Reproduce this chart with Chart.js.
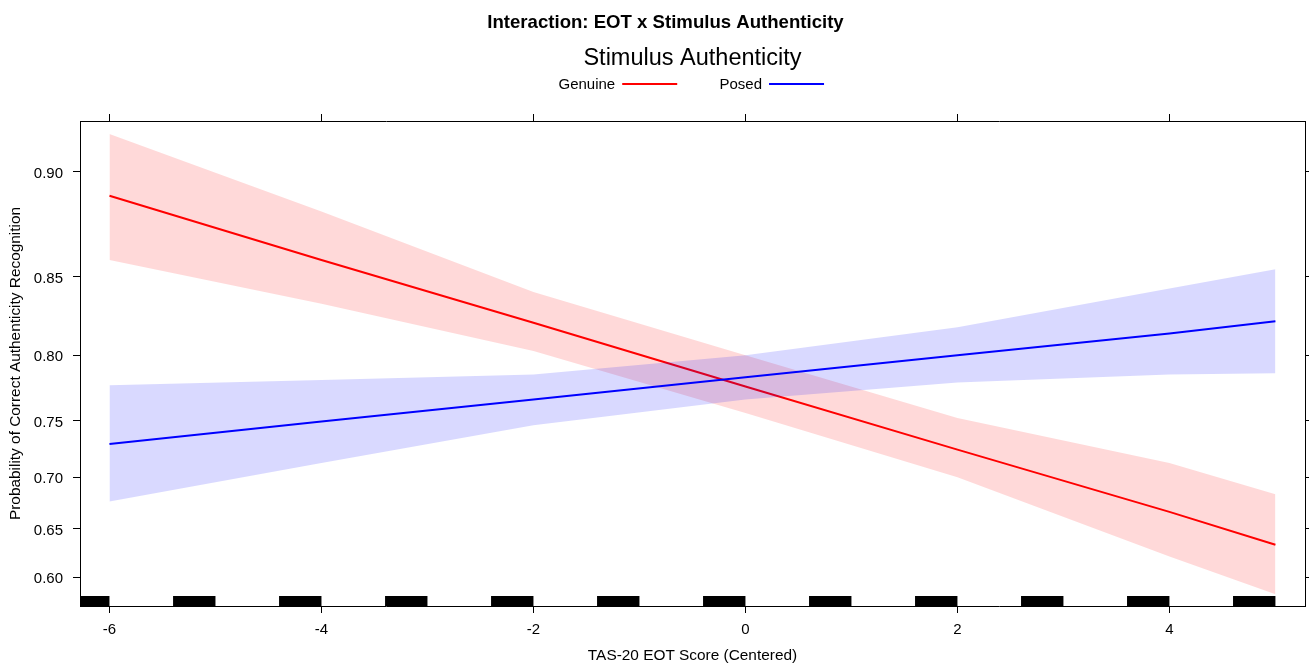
<!DOCTYPE html>
<html><head><meta charset="utf-8">
<script src="https://cdn.jsdelivr.net/npm/chart.js@4.4.1/dist/chart.umd.min.js"></script>
<style>html,body{margin:0;padding:0;background:#fff;}#wrap{width:1309px;height:663px;position:relative}</style>
</head><body><div id="wrap"><canvas id="c" width="1309" height="663"></canvas></div>
<script>
// ---- data (probabilities) ----
const xValues      = [-6, -4, -2, 0, 2, 4, 5];
const genuineFit   = [0.890, 0.859, 0.822, 0.777, 0.725, 0.667, 0.634];
const genuineUpper = [0.914, 0.883, 0.841, 0.800, 0.752, 0.713, 0.684];
const genuineLower = [0.859, 0.834, 0.803, 0.756, 0.700, 0.622, 0.582];
const posedFit     = [0.730, 0.749, 0.767, 0.784, 0.800, 0.815, 0.823];
const posedUpper   = [0.778, 0.782, 0.786, 0.800, 0.819, 0.843, 0.854];
const posedLower   = [0.677, 0.713, 0.746, 0.767, 0.780, 0.786, 0.787];
const rugValues    = [-6, -5, -4, -3, -2, -1, 0, 1, 2, 3, 4, 5];
const xTickValues  = [-6, -4, -2, 0, 2, 4];
const yTickProbs   = [0.60, 0.65, 0.70, 0.75, 0.80, 0.85, 0.90];
const seriesNames  = ['Genuine', 'Posed'];
const chartTitle   = 'Interaction: EOT x Stimulus Authenticity';
const legendTitle  = 'Stimulus Authenticity';
const xTitle       = 'TAS-20 EOT Score (Centered)';
const yTitle       = 'Probability of Correct Authenticity Recognition';

// ---- helpers / styling ----
const logit = p => Math.log(p / (1 - p));
const pts = arr => xValues.map((x, i) => ({x: x, y: logit(arr[i])}));
const RED = '#ff0000', BLUE = '#0000ff';
const FONT = '"Liberation Sans", Arial, sans-serif';
const X_MIN = -6.278, X_MAX = 5.279;
const Y_MIN = 0.2789, Y_MAX = 2.421;
const RUG_JITTER = 0.4, RUG_H = 10;

const headerPlugin = {
  id: 'header',
  afterDraw(chart) {
    const ctx = chart.ctx, ca = chart.chartArea;
    const cx = (ca.left + ca.right) / 2;
    ctx.save();
    ctx.fillStyle = '#000';
    ctx.textBaseline = 'middle';
    ctx.textAlign = 'center';
    ctx.font = 'bold 18.6px ' + FONT;
    ctx.fillText(chartTitle, cx - 27, 23);
    ctx.font = '23.5px ' + FONT;
    ctx.fillText(legendTitle, cx, 59);
    // legend: text followed by line
    ctx.font = '15px ' + FONT;
    ctx.textAlign = 'left';
    const items = [{name: seriesNames[0], col: RED, x: cx - 134}, {name: seriesNames[1], col: BLUE, x: cx + 27}];
    items.forEach(it => {
      ctx.fillStyle = '#000';
      ctx.fillText(it.name, it.x, 85);
      const w = ctx.measureText(it.name).width;
      ctx.strokeStyle = it.col;
      ctx.lineWidth = 2;
      ctx.beginPath();
      ctx.moveTo(it.x + w + 7, 84);
      ctx.lineTo(it.x + w + 62, 84);
      ctx.stroke();
    });
    ctx.restore();
  }
};

const rugPlugin = {
  id: 'rug',
  afterDatasetsDraw(chart) {
    const ctx = chart.ctx, ca = chart.chartArea, xs = chart.scales.x;
    ctx.save();
    ctx.beginPath();
    ctx.rect(ca.left, ca.top, ca.right - ca.left, ca.bottom - ca.top);
    ctx.clip();
    ctx.fillStyle = '#000';
    rugValues.forEach(v => {
      const x0 = xs.getPixelForValue(v - RUG_JITTER), x1 = xs.getPixelForValue(v);
      ctx.fillRect(x0, ca.bottom - RUG_H, x1 - x0, RUG_H);
    });
    ctx.restore();
  }
};

const gridOpts = {display: true, drawOnChartArea: false, drawTicks: true, tickLength: 7, color: '#000', lineWidth: 1};
const borderOpts = {display: true, color: '#000', width: 1};
const yTicks = axis => { axis.ticks = yTickProbs.map(p => ({value: logit(p)})); };
const xTicks = axis => { axis.ticks = xTickValues.map(v => ({value: v})); };

new Chart(document.getElementById('c'), {
  type: 'line',
  data: {
    datasets: [
      {label: seriesNames[0] + ' upper', data: pts(genuineUpper), fill: '+1', backgroundColor: 'rgba(255,0,0,0.15)', borderWidth: 0, pointRadius: 0, order: 5},
      {label: seriesNames[0] + ' lower', data: pts(genuineLower), fill: false, borderWidth: 0, pointRadius: 0, order: 5},
      {label: seriesNames[0], data: pts(genuineFit), fill: false, borderColor: RED, borderWidth: 2, pointRadius: 0, order: 4},
      {label: seriesNames[1] + ' upper', data: pts(posedUpper), fill: '+1', backgroundColor: 'rgba(0,0,255,0.15)', borderWidth: 0, pointRadius: 0, order: 3},
      {label: seriesNames[1] + ' lower', data: pts(posedLower), fill: false, borderWidth: 0, pointRadius: 0, order: 3},
      {label: seriesNames[1], data: pts(posedFit), fill: false, borderColor: BLUE, borderWidth: 2, pointRadius: 0, order: 1}
    ]
  },
  options: {
    responsive: false,
    animation: false,
    devicePixelRatio: 1,
    layout: {padding: {top: 113, left: 0, right: 0, bottom: 0}},
    elements: {line: {tension: 0}},
    plugins: {legend: {display: false}, title: {display: false}, tooltip: {enabled: false}},
    scales: {
      x: {
        type: 'linear', axis: 'x', position: 'bottom', min: X_MIN, max: X_MAX,
        afterBuildTicks: xTicks,
        ticks: {font: {family: FONT, size: 15}, color: '#000', padding: 8, maxRotation: 0, autoSkip: false, callback: v => String(v)},
        grid: gridOpts, border: borderOpts,
        title: {display: true, text: xTitle, color: '#000', font: {family: FONT, size: 15.4, lineHeight: 1}, padding: {top: 0, bottom: 0}},
        afterFit: s => { s.height = 57; }
      },
      x2: {
        type: 'linear', axis: 'x', position: 'top', min: X_MIN, max: X_MAX,
        afterBuildTicks: xTicks,
        ticks: {display: false},
        grid: gridOpts, border: borderOpts,
        afterFit: s => { s.height = 8; }
      },
      y: {
        type: 'linear', axis: 'y', position: 'left', min: Y_MIN, max: Y_MAX,
        afterBuildTicks: yTicks,
        ticks: {font: {family: FONT, size: 15}, color: '#000', padding: 10, labelOffset: 2, autoSkip: false, callback: (v, i) => yTickProbs[i].toFixed(2)},
        grid: gridOpts, border: borderOpts,
        title: {display: true, text: yTitle, color: '#000', font: {family: FONT, size: 15.4, lineHeight: 1}, padding: {top: 7.8, bottom: 0}},
        afterFit: s => { s.width = 80; }
      },
      y2: {
        type: 'linear', axis: 'y', position: 'right', min: Y_MIN, max: Y_MAX,
        afterBuildTicks: yTicks,
        ticks: {display: false},
        grid: gridOpts, border: borderOpts,
        afterFit: s => { s.width = 4; }
      }
    }
  },
  plugins: [headerPlugin, rugPlugin]
});
</script>
</body></html>
